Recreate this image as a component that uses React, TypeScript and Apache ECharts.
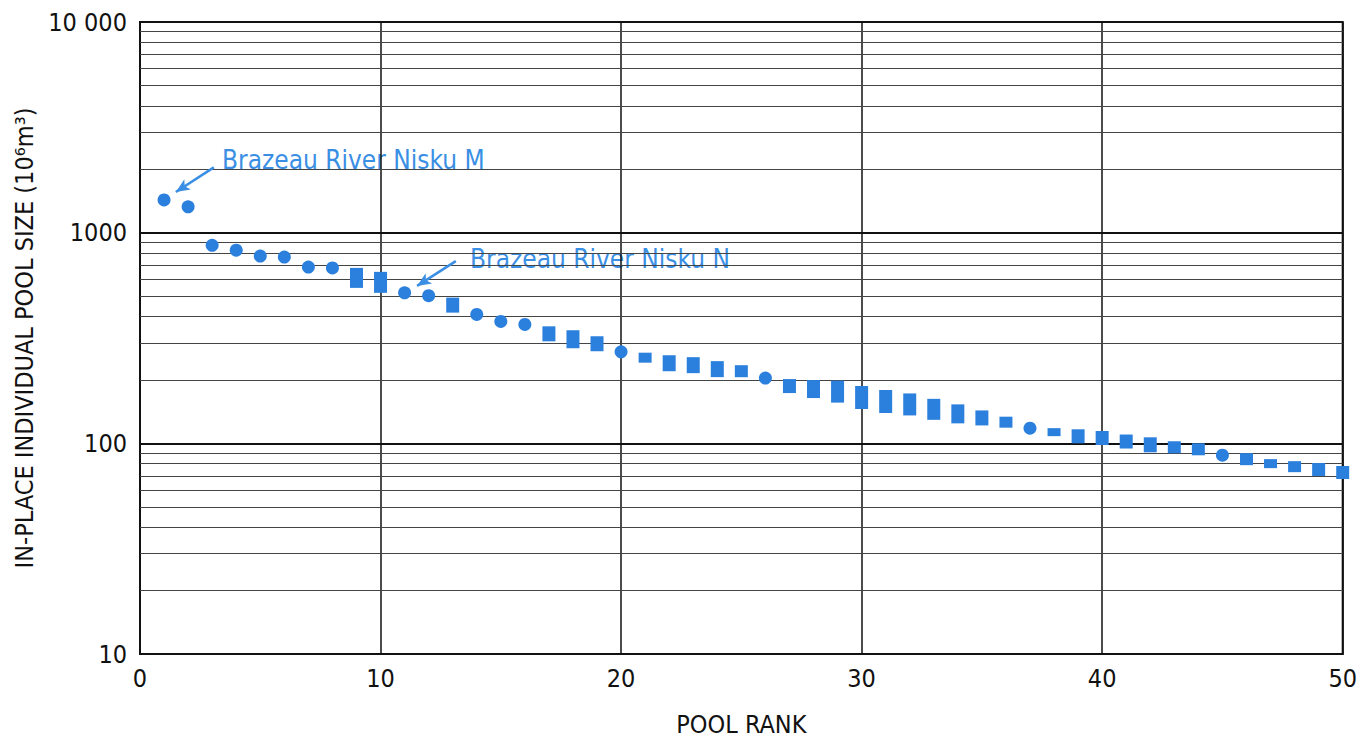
import React, { useEffect, useRef } from "react";
import * as echarts from "echarts";

// Pool rank 1..50 and in-place pool size (10^6 m^3)
const ranks: number[] = [
  1, 2, 3, 4, 5, 6, 7, 8, 9, 10,
  11, 12, 13, 14, 15, 16, 17, 18, 19, 20,
  21, 22, 23, 24, 25, 26, 27, 28, 29, 30,
  31, 32, 33, 34, 35, 36, 37, 38, 39, 40,
  41, 42, 43, 44, 45, 46, 47, 48, 49, 50,
];
const poolSizes: number[] = [
  1431, 1327, 871, 826, 774, 766, 687, 680, 610, 581,
  518, 502, 453, 409, 379, 367, 331, 312, 297, 272,
  255, 240, 235, 225, 220, 204, 187, 181, 176, 165,
  158, 153, 145, 138, 132, 126, 118, 113, 108, 106,
  102, 98.4, 95.8, 93.7, 87.8, 84.1, 80.1, 77.5, 75.1, 72.7,
];
// marker kind per pool: "c" = circle, "s" = square
const markerKinds: string[] = [
  "c", "c", "c", "c", "c", "c", "c", "c", "s", "s",
  "c", "c", "s", "c", "c", "c", "s", "s", "s", "c",
  "s", "s", "s", "s", "s", "c", "s", "s", "s", "s",
  "s", "s", "s", "s", "s", "s", "c", "s", "s", "s",
  "s", "s", "s", "s", "c", "s", "s", "s", "s", "s",
];
// square marker heights (style)
const squareHeights: number[] = [
  0, 0, 0, 0, 0, 0, 0, 0, 20, 21,
  0, 0, 15, 0, 0, 0, 15, 18, 15, 0,
  10, 16, 16, 16, 12, 0, 14, 18, 22, 23,
  23, 22, 21, 19, 15, 11, 0, 8, 14, 14,
  14, 15, 12, 12, 0, 12, 9, 11, 13, 13,
];

const yTicks: number[] = [10, 100, 1000, 10000];
const yTickLabels: string[] = ["10", "100", "1000", "10 000"];
const minorGridValues: number[] = [
  20, 30, 40, 50, 60, 70, 80, 90,
  200, 300, 400, 500, 600, 700, 800, 900,
  2000, 3000, 4000, 5000, 6000, 7000, 8000, 9000,
];

const annotations = [
  { text: "Brazeau River Nisku M", from: [3.07, 2041], to: [1.49, 1560] },
  { text: "Brazeau River Nisku N", from: [13.13, 733], to: [11.52, 559] },
];

const FONT = "'DejaVu Sans Condensed', 'Liberation Sans Narrow', 'Arial Narrow', sans-serif";
const MARK_BLUE = "#2c80dd";
const TEXT_BLUE = "#3a8fe4";

export default function App() {
  const ref = useRef<HTMLDivElement>(null);

  useEffect(() => {
    if (!ref.current) return;
    const chart = echarts.init(ref.current, null, { renderer: "svg" });

    const data = ranks.map((r, i) => [r, poolSizes[i]]);

    const option: any = {
      animation: false,
      backgroundColor: "#ffffff",
      grid: {
        left: 140,
        right: 13,
        top: 22,
        bottom: 83,
        show: true,
        borderColor: "#111",
        borderWidth: 2,
        containLabel: false,
      },
      xAxis: {
        type: "value",
        min: 0,
        max: 50,
        interval: 10,
        name: "POOL RANK",
        nameLocation: "middle",
        nameGap: 58,
        nameTextStyle: { fontFamily: FONT, fontSize: 25, color: "#111" },
        axisLine: { show: true, lineStyle: { color: "#111", width: 2 } },
        axisTick: { show: false },
        axisLabel: { fontFamily: FONT, fontSize: 25, color: "#111", margin: 12 },
        splitLine: { show: true, lineStyle: { color: "#111", width: 1.5 } },
      },
      yAxis: {
        type: "log",
        logBase: 10,
        min: 10,
        max: 10000,
        name: "IN-PLACE INDIVIDUAL POOL SIZE (10⁶m³)",
        nameLocation: "middle",
        nameRotate: 90,
        nameGap: 92,
        nameTextStyle: { fontFamily: FONT, fontSize: 25, color: "#111" },
        axisLine: { show: true, lineStyle: { color: "#111", width: 2 } },
        axisTick: { show: false },
        axisLabel: {
          fontFamily: FONT,
          fontSize: 25,
          color: "#111",
          margin: 13,
          formatter: (v: number) => {
            const idx = yTicks.findIndex((t) => Math.abs(t - v) / t < 1e-6);
            return idx >= 0 ? yTickLabels[idx] : "";
          },
        },
        splitLine: { show: true, lineStyle: { color: "#111", width: 2 } },
      },
      series: [
        {
          type: "scatter",
          data,
          itemStyle: { color: MARK_BLUE, opacity: 1 },
          symbol: (_v: any, p: any) => (markerKinds[p.dataIndex] === "c" ? "circle" : "rect"),
          symbolSize: (_v: any, p: any) =>
            markerKinds[p.dataIndex] === "c" ? 13 : [13, squareHeights[p.dataIndex]],
          z: 5,
          markLine: {
            silent: true,
            symbol: ["none", "none"],
            label: { show: false },
            lineStyle: { color: "#444", width: 1, type: "solid" },
            data: minorGridValues.map((v) => ({ yAxis: v })),
            z: 1,
          },
        },
        {
          type: "scatter",
          data: [],
          markLine: {
            silent: true,
            symbol: ["none", "arrow"],
            symbolSize: [9, 14],
            label: { show: false },
            lineStyle: { color: TEXT_BLUE, width: 2.5, type: "solid" },
            data: annotations.map((a) => [
              { coord: a.from },
              { coord: a.to },
            ]),
            z: 6,
          },
        },
      ],
      graphic: [
        {
          type: "text",
          left: 222,
          top: 147,
          style: { text: annotations[0].text, fontFamily: FONT, fontSize: 26, fill: TEXT_BLUE },
        },
        {
          type: "text",
          left: 470,
          top: 246,
          style: { text: annotations[1].text, fontFamily: FONT, fontSize: 26, fill: TEXT_BLUE },
        },
      ],
    };

    chart.setOption(option);
    return () => chart.dispose();
  }, []);

  return (
    <div
      ref={ref}
      style={{ position: "fixed", left: 0, top: 0, width: 1360, height: 742, background: "#fff" }}
    />
  );
}
